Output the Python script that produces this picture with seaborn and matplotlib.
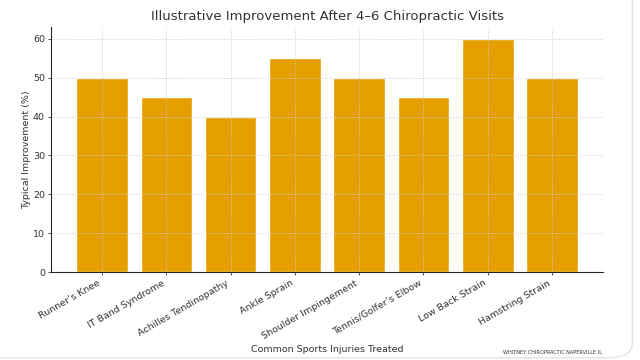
import matplotlib
matplotlib.use("Agg")
import matplotlib.pyplot as plt
from matplotlib.patches import FancyBboxPatch
import pandas as pd
import seaborn as sns

lesoes = [
    "Runner\u2019s Knee",
    "IT Band Syndrome",
    "Achilles Tendinopathy",
    "Ankle Sprain",
    "Shoulder Impingement",
    "Tennis/Golfer\u2019s Elbow",
    "Low Back Strain",
    "Hamstring Strain",
]
melhora = [50, 45, 40, 55, 50, 45, 60, 50]

df = pd.DataFrame({"lesao": lesoes, "melhora": melhora})

sns.set_style("ticks")
plt.rcParams["font.family"] = ["DejaVu Sans"]

fig = plt.figure(figsize=(6.4, 3.6), dpi=100)
ax = fig.add_axes([0.08, 0.244, 0.862, 0.681])

sns.barplot(data=df, x="lesao", y="melhora", color="#E69F00", width=0.8,
            saturation=1, ax=ax)

# grade pontilhada clara, por cima das barras (padrão do matplotlib)
ax.grid(True, linestyle=":", color="#cccccc", linewidth=0.7)
ax.set_axisbelow("line")
ax.set_xlim(-0.79, 7.79)
ax.set_ylim(0, 63)

sns.despine(ax=ax)
ax.tick_params(labelsize=6.8, colors="#333333", length=2.5, width=0.6, pad=2)
plt.setp(ax.get_xticklabels(), rotation=30, ha="right")

ax.set_title("Illustrative Improvement After 4\u20136 Chiropractic Visits",
             fontsize=9.5, color="#333333", pad=5)
ax.set_xlabel("Common Sports Injuries Treated", fontsize=6.8, color="#333333",
              labelpad=3)
ax.set_ylabel("Typical Improvement (%)", fontsize=6.8, color="#333333",
              labelpad=1)

fig.text(0.94, 0.0125, "WHITNEY CHIROPRACTIC NAPERVILLE IL", fontsize=3.6,
         ha="right", va="bottom", color="#333333")

# moldura arredondada clara da captura (só a borda direita e a de baixo aparecem)
moldura = FancyBboxPatch((-0.05, 0.006), 1.038, 1.2,
                         boxstyle="round,pad=0,rounding_size=0.04",
                         transform=fig.transFigure, facecolor="none",
                         edgecolor="#e4e4e4", linewidth=1.0)
fig.patches.append(moldura)

fig.savefig("out.png", dpi=100)
